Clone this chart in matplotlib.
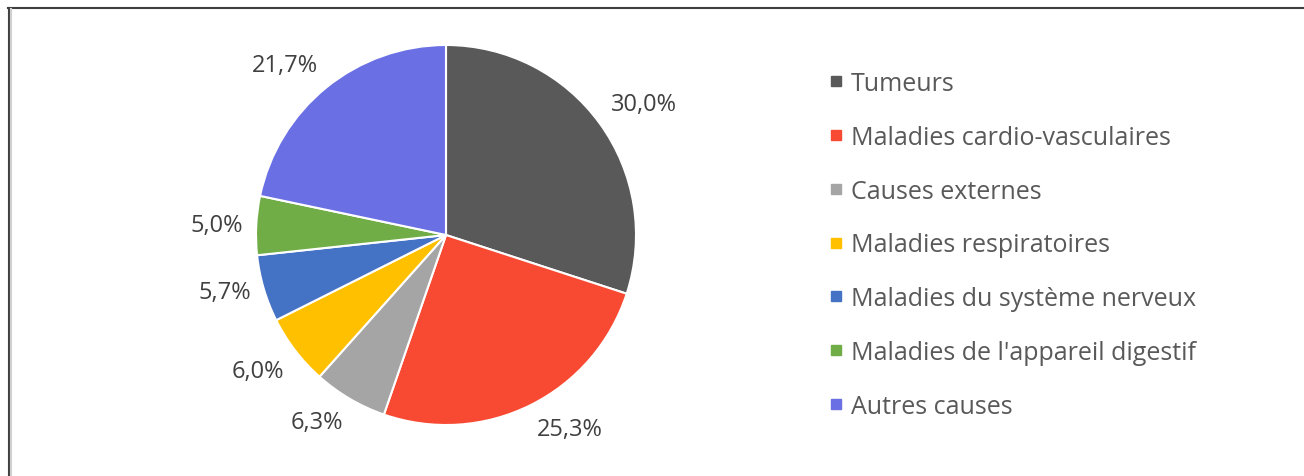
import matplotlib
matplotlib.use("Agg")
import numpy as np
import matplotlib.pyplot as plt
from matplotlib.lines import Line2D

plt.rcParams['font.family'] = ['Open Sans', 'DejaVu Sans']

causes = ["Tumeurs", "Maladies cardio-vasculaires", "Causes externes",
          "Maladies respiratoires", "Maladies du système nerveux",
          "Maladies de l'appareil digestif", "Autres causes"]
parts = [30.0, 25.3, 6.3, 6.0, 5.7, 5.0, 21.7]
colors = ["#595959", "#F84A32", "#A5A5A5", "#FFC000", "#4472C4", "#70AD47", "#6A70E4"]

W, H = 1304, 477
fig = plt.figure(figsize=(W / 100, H / 100), dpi=100)

# pie axes: centre ~ (446, 236) px, radius ~190 px
cx, cy, r = 446, 236, 190
ax = fig.add_axes([(cx - r) / W, (H - cy - r) / H, 2 * r / W, 2 * r / H])

wedges, _ = ax.pie(parts, colors=colors, startangle=90, counterclock=False,
                   wedgeprops=dict(edgecolor="white", linewidth=1.5))
ax.set_xlim(-1, 1)
ax.set_ylim(-1, 1)
ax.set_aspect("equal")
ax.axis("off")

# data labels at the outside end, aligned like Excel does
for w, p in zip(wedges, parts):
    ang = np.deg2rad((w.theta1 + w.theta2) / 2)
    c, s = np.cos(ang), np.sin(ang)
    ha = "left" if c > 0 else "right"
    va = "bottom" if s > 0.3 else ("top" if s < -0.3 else "center")
    ax.text(1.07 * c, 1.07 * s, "{:.1f}%".format(p).replace(".", ","),
            ha=ha, va=va, fontsize=17, color="#404040")

handles = [Line2D([], [], marker="s", ls="none", markersize=7.5,
                  markerfacecolor=c, markeredgecolor=c) for c in colors]
leg = fig.legend(handles, causes, loc="upper left",
                 bbox_to_anchor=(828 / W, 1 - 72 / H), frameon=False,
                 fontsize=18, labelspacing=1.152, handlelength=0.62,
                 handletextpad=0.3, borderaxespad=0, borderpad=0)
for t in leg.get_texts():
    t.set_color("#595959")

# chart frame (cropped at right and bottom)
fig.add_artist(Line2D([8 / W, 1], [1 - 8.5 / H, 1 - 8.5 / H], color="#404040", lw=1.5))
fig.add_artist(Line2D([9 / W, 9 / W], [0, 1 - 8.5 / H], color="#404040", lw=1.5))
fig.add_artist(Line2D([11 / W, 11 / W], [0, 1 - 10 / H], color="#d0d0d0", lw=1.5))

fig.savefig("out.png", dpi=100)
